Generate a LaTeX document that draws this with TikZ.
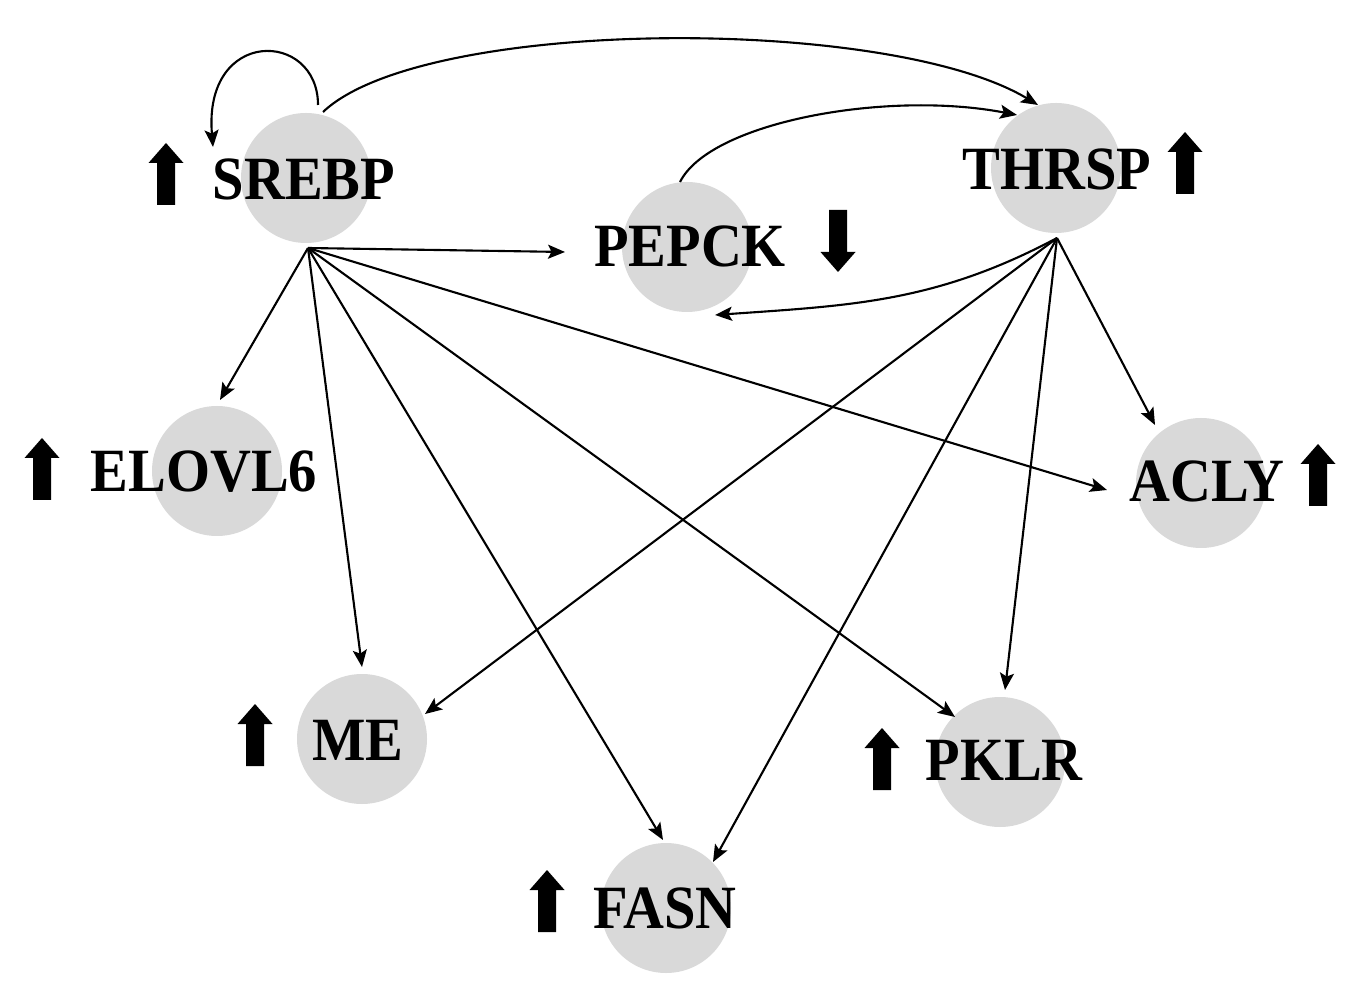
\documentclass[tikz,border=0pt]{standalone}
\usepackage{fontspec}
\newfontfamily\genefont{Liberation Serif}[FakeStretch=0.92]
\usetikzlibrary{arrows.meta,calc}
\tikzset{
  gene/.style={circle,fill=black!15,draw=none,minimum size=1.3cm,inner sep=0pt},
  genelabel/.style={font=\genefont\bfseries\fontsize{17.5pt}{20pt}\selectfont,inner sep=0pt,anchor=base},
  link/.style={line width=0.6pt,-{Stealth[length=0.17cm,width=0.14cm,inset=0.035cm]}},
  uparr/.pic={\fill (-0.09,-0.31) -- (-0.09,0.11) -- (-0.175,0.11) -- (0,0.31)
             -- (0.175,0.11) -- (0.09,0.11) -- (0.09,-0.31) -- cycle;},
  downarr/.pic={\fill (-0.09,0.31) -- (-0.09,-0.11) -- (-0.175,-0.11) -- (0,-0.31)
             -- (0.175,-0.11) -- (0.09,-0.11) -- (0.09,0.31) -- cycle;}
}
\begin{document}
\begin{tikzpicture}
\useasboundingbox (0,0) rectangle (13.55,-9.94);

% grey discs
\node[gene] (srebp) at (3.06,-1.78) {};
\node[gene] (thrsp) at (10.56,-1.68) {};
\node[gene] (pepck) at (6.87,-2.47) {};
\node[gene] (elovl) at (2.17,-4.71) {};
\node[gene] (acly)  at (12.01,-4.83) {};
\node[gene] (me)    at (3.62,-7.39) {};
\node[gene] (pklr)  at (10.00,-7.62) {};
\node[gene] (fasn)  at (6.66,-9.08) {};

% gene names
\node[genelabel] (srebpt) at (3.04,-2.00) {SREBP};
\node[genelabel] (thrspt) at (10.57,-1.90) {THRSP};
\node[genelabel] (pepckt) at (6.90,-2.67) {PEPCK};
\node[genelabel] (elovlt) at (2.04,-4.92) {ELOVL6};
\node[genelabel] (aclyt)  at (12.07,-5.02) {ACLY};
\node[genelabel] (met)    at (3.58,-7.60) {ME};
\node[genelabel] (pklrt)  at (10.04,-7.80) {PKLR};
\node[genelabel] (fasnt)  at (6.65,-9.28) {FASN};

% expression changes
\pic at (1.66,-1.74) {uparr};
\pic at (11.85,-1.63) {uparr};
\pic at (8.38,-2.41) {downarr};
\pic at (0.42,-4.69) {uparr};
\pic at (13.18,-4.75) {uparr};
\pic at (2.55,-7.35) {uparr};
\pic at (8.82,-7.59) {uparr};
\pic at (5.47,-9.01) {uparr};

% hubs under SREBP and THRSP
\coordinate (hubS) at ($(srebp)+(0.02,-0.70)$);
\coordinate (hubT) at ($(thrsp)+(0.01,-0.70)$);

% SREBP targets
\draw[link] (hubS) -- ($(pepck)+(-1.22,-0.05)$);
\draw[link] (hubS) -- ($(elovl)+(0.03,0.71)$);
\draw[link] (hubS) -- ($(me)+(0,0.72)$);
\draw[link] (hubS) -- ($(fasn)+(-0.03,0.68)$);
\draw[link] (hubS) -- ($(pklr)+(-0.45,0.45)$);
\draw[link] (hubS) -- ($(acly)+(-0.94,-0.07)$);

% THRSP targets
\draw[link] (hubT) -- ($(me)+(0.63,0.25)$);
\draw[link] (hubT) -- ($(fasn)+(0.47,0.46)$);
\draw[link] (hubT) -- ($(pklr)+(0.05,0.72)$);
\draw[link] (hubT) -- ($(acly)+(-0.46,0.58)$);
\draw[link] (hubT) to[out=-152,in=4] ($(pepck)+(0.28,-0.68)$);

% curved links on top
\draw[link] ($(pepck)+(-0.07,0.65)$) .. controls +(0.3,0.6) and +(-1.3,0.25) .. ($(thrsp)+(-0.39,0.53)$);
\draw[link] ($(srebp)+(0.17,0.66)$) .. controls +(1.0,0.95) and +(-1.5,0.9) .. ($(thrsp)+(-0.18,0.63)$);
\draw[link] ($(srebp)+(0.12,0.73)$) .. controls +(0,0.75) and +(-0.1,1.2) .. ($(srebp)+(-0.93,0.31)$);
\end{tikzpicture}
\end{document}
